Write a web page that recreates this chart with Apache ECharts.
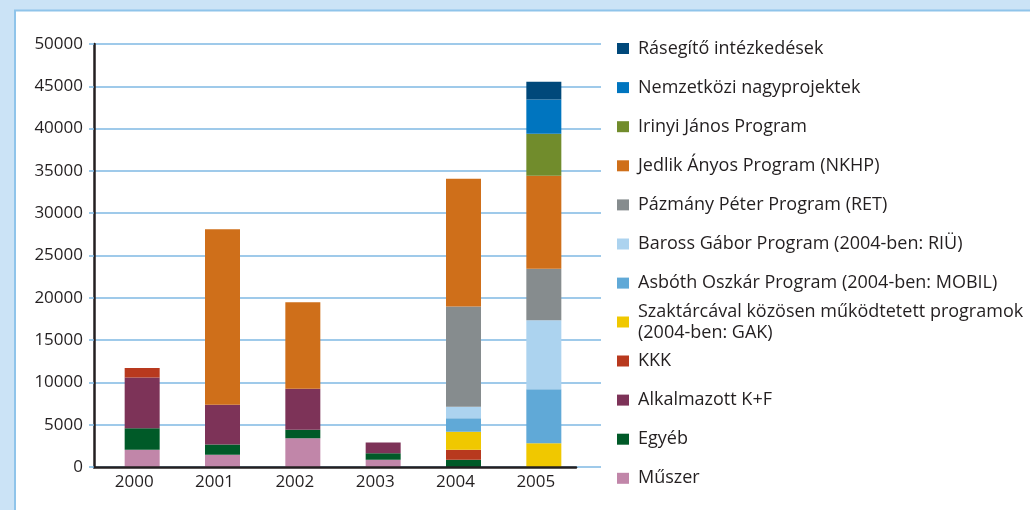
<!DOCTYPE html>
<html>
<head>
<meta charset="utf-8">
<script src="https://cdn.jsdelivr.net/npm/echarts@6/dist/echarts.min.js"></script>
<style>
  html, body { margin: 0; padding: 0; background: #cbe3f6; }
  #container { width: 1030px; height: 510px; }
</style>
</head>
<body>
<div id="container"></div>
<script>
var years = ['2000', '2001', '2002', '2003', '2004', '2005'];
var yTicks = { min: 0, max: 50000, interval: 5000 };

// stack order, bottom to top
var muszer      = [2030, 1440, 3390, 850, 0, 0];
var egyeb       = [2540, 1210, 1020, 790, 850, 0];
var alkalmazott = [6020, 4700, 4830, 1250, 0, 0];
var kkk         = [1110, 0, 0, 0, 1190, 0];
var szaktarca   = [0, 0, 0, 0, 2120, 2800];
var asboth      = [0, 0, 0, 0, 1590, 6400];
var baross      = [0, 0, 0, 0, 1360, 8160];
var pazmany     = [0, 0, 0, 0, 11870, 6060];
var jedlik      = [0, 20760, 10220, 0, 15080, 11000];
var irinyi      = [0, 0, 0, 0, 0, 4980];
var nemzetkozi  = [0, 0, 0, 0, 0, 4040];
var rasegito    = [0, 0, 0, 0, 0, 2100];

var seriesDefs = [
    { name: 'Műszer', data: muszer, color: '#c186a9' },
    { name: 'Egyéb', data: egyeb, color: '#005a28' },
    { name: 'Alkalmazott K+F', data: alkalmazott, color: '#7d3358' },
    { name: 'KKK', data: kkk, color: '#b8391e' },
    { name: 'Szaktárcával közösen működtetett programok\n(2004-ben: GAK)', data: szaktarca, color: '#f0c800' },
    { name: 'Asbóth Oszkár Program (2004-ben: MOBIL)', data: asboth, color: '#60a9d7' },
    { name: 'Baross Gábor Program (2004-ben: RIÜ)', data: baross, color: '#acd3ef' },
    { name: 'Pázmány Péter Program (RET)', data: pazmany, color: '#868c8e' },
    { name: 'Jedlik Ányos Program (NKHP)', data: jedlik, color: '#cf6f1a' },
    { name: 'Irinyi János Program', data: irinyi, color: '#718c2c' },
    { name: 'Nemzetközi nagyprojektek', data: nemzetkozi, color: '#0075bf' },
    { name: 'Rásegítő intézkedések', data: rasegito, color: '#00487a' }
];

var dom = document.getElementById('container');
var myChart = echarts.init(dom);

var textColor = '#231f20';
var fontFamily = '"Open Sans", sans-serif';

var names = seriesDefs.map(function (s) { return s.name; }).reverse();

var legendBase = {
    orient: 'vertical',
    left: 612,
    itemWidth: 12,
    itemHeight: 11,
    itemGap: 19.1,
    icon: 'rect',
    selectedMode: false,
    textStyle: { fontSize: 18, color: textColor, fontFamily: fontFamily, lineHeight: 20, padding: [0, 0, 0, 4] }
};

var option = {
    animation: false,
    backgroundColor: '#cbe3f6',
    graphic: [{
        type: 'rect',
        z: -10,
        shape: { x: 15, y: 10.5, width: 1030, height: 510 },
        style: { fill: '#ffffff', stroke: '#8fc4ea', lineWidth: 2 }
    }],
    legend: [
        Object.assign({}, legendBase, { top: 33.5, data: names.slice(0, 7) }),
        Object.assign({}, legendBase, {
            top: 296, data: names.slice(7, 8),
            textStyle: Object.assign({}, legendBase.textStyle, { lineHeight: 21 })
        }),
        Object.assign({}, legendBase, { top: 346, data: names.slice(8) })
    ],
    grid: [
        { left: 94, top: 44, width: 482, height: 423 },
        { left: 94, top: 44, width: 507, height: 423 },
        { left: 102, top: 44, width: 482, height: 423 }
    ],
    xAxis: [
        {
            gridIndex: 0, type: 'category', data: years,
            axisLine: { lineStyle: { color: textColor, width: 2.5 } },
            axisTick: { show: false },
            axisLabel: { fontSize: 17, color: textColor, fontFamily: fontFamily, margin: 7 },
            z: 5
        },
        { gridIndex: 1, type: 'category', data: years, show: false },
        { gridIndex: 2, type: 'category', data: years, show: false }
    ],
    yAxis: [
        {
            gridIndex: 0, type: 'value', min: yTicks.min, max: yTicks.max, interval: yTicks.interval,
            axisLine: { show: true, lineStyle: { color: textColor, width: 2.5 } },
            axisTick: { show: true, length: 5, lineStyle: { color: '#7fb9e3', width: 1.5 } },
            axisLabel: {
                fontSize: 17, color: textColor, fontFamily: fontFamily, margin: 11,
                formatter: function (v) { return String(v); }
            },
            splitLine: { show: false },
            z: 5
        },
        {
            gridIndex: 1, type: 'value', min: yTicks.min, max: yTicks.max, interval: yTicks.interval,
            axisLine: { show: false }, axisTick: { show: false }, axisLabel: { show: false },
            splitLine: { show: true, lineStyle: { color: '#7fb9e3', width: 1.5 } }
        },
        {
            gridIndex: 2, type: 'value', min: yTicks.min, max: yTicks.max, interval: yTicks.interval,
            show: false, splitLine: { show: false }
        }
    ],
    series: seriesDefs.map(function (s) {
        return {
            name: s.name,
            type: 'bar',
            stack: 'total',
            xAxisIndex: 2,
            yAxisIndex: 2,
            barWidth: 35,
            data: s.data,
            itemStyle: { color: s.color }
        };
    })
};

myChart.setOption(option);
</script>
</body>
</html>
